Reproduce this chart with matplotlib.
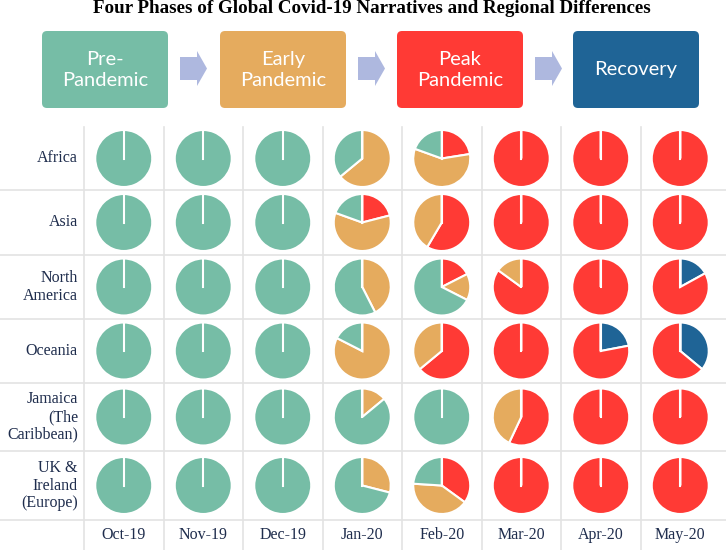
import matplotlib
matplotlib.use("Agg")
import matplotlib.pyplot as plt
from matplotlib.patches import FancyBboxPatch, FancyArrow

# data
months = ["Oct-19", "Nov-19", "Dec-19", "Jan-20", "Feb-20", "Mar-20", "Apr-20", "May-20"]
regions = ["Africa", "Asia", "North\nAmerica", "Oceania",
           "Jamaica\n(The\nCaribbean)", "UK &\nIreland\n(Europe)"]
phases = ["Pre-\nPandemic", "Early\nPandemic", "Peak\nPandemic", "Recovery"]
phase_colors = ["#76bda6", "#e5ab5e", "#ff3a35", "#1f6496"]

# share per month: [recovery, peak, early, pre] (clockwise from 12 o'clock)
africa = [[0, 0, 0, 100], [0, 0, 0, 100], [0, 0, 0, 100], [0, 0, 64, 36],
          [0, 22.5, 58, 19.5], [0, 100, 0, 0], [0, 100, 0, 0], [0, 100, 0, 0]]
asia = [[0, 0, 0, 100], [0, 0, 0, 100], [0, 0, 0, 100], [0, 21, 59.5, 19.5],
        [0, 58.5, 41.5, 0], [0, 100, 0, 0], [0, 100, 0, 0], [0, 100, 0, 0]]
north_america = [[0, 0, 0, 100], [0, 0, 0, 100], [0, 0, 0, 100], [0, 0, 42.5, 57.5],
                 [0, 17.5, 15, 67.5], [0, 85, 15, 0], [0, 100, 0, 0], [17, 83, 0, 0]]
oceania = [[0, 0, 0, 100], [0, 0, 0, 100], [0, 0, 0, 100], [0, 0, 82.5, 17.5],
           [0, 64, 36, 0], [0, 100, 0, 0], [22, 78, 0, 0], [36, 64, 0, 0]]
jamaica = [[0, 0, 0, 100], [0, 0, 0, 100], [0, 0, 0, 100], [0, 0, 14, 86],
           [0, 0, 0, 100], [0, 57, 43, 0], [0, 100, 0, 0], [0, 100, 0, 0]]
uk_ireland = [[0, 0, 0, 100], [0, 0, 0, 100], [0, 0, 0, 100], [0, 0, 29, 71],
              [0, 35, 41, 24], [0, 100, 0, 0], [0, 100, 0, 0], [0, 100, 0, 0]]
shares = [africa, asia, north_america, oceania, jamaica, uk_ireland]
wedge_colors = [phase_colors[3], phase_colors[2], phase_colors[1], phase_colors[0]]

W, H = 726, 550
fig = plt.figure(figsize=(W / 100, H / 100), dpi=100)
ax = fig.add_axes([0, 0, 1, 1])

def py(y):
    # pixel row (from top) -> axis y
    return H - y

serif = "Liberation Serif"
navy = "#1f2d4d"

ax.text(371.5, py(8.5), "Four Phases of Global Covid-19 Narratives and Regional Differences",
        ha="center", va="center", fontsize=13.7, fontweight="bold", family=serif)

# phase boxes + arrows
box_x = [42, 220, 397, 573]
for i, (lab, c) in enumerate(zip(phases, phase_colors)):
    b = FancyBboxPatch((box_x[i] + 5, py(108) + 5), 126 - 10, 77 - 10,
                       boxstyle="round,pad=5", fc=c, ec="none")
    ax.add_patch(b)
    ax.text(box_x[i] + 63, py(70), lab, ha="center", va="center", color="white",
            fontsize=14.5, family="Lato", linespacing=1.35)
    if i < 3:
        ax.add_patch(FancyArrow(box_x[i] + 138, py(68.5), 27, 0, width=23,
                                head_width=35, head_length=10, length_includes_head=True,
                                fc="#aeb8df", ec="none"))

# grid
col_x0, col_w = 84, 79.5
row_edges = [127, 190, 255, 319, 383, 451, 520]
grid_c = "#e3e3e3"
for k in range(len(months)):
    x = col_x0 + k * col_w
    ax.plot([x, x], [py(127), py(550)], color=grid_c, lw=1.2, zorder=0)
for y in row_edges[1:]:
    ax.plot([0, W], [py(y), py(y)], color=grid_c, lw=1.2, zorder=0)

# pies
for r, region in enumerate(regions):
    cy = py((row_edges[r] + row_edges[r + 1]) / 2)
    ax.text(78, cy, region, ha="right", va="center", fontsize=11.5, family=serif,
            color=navy, linespacing=1.15)
    for j in range(len(months)):
        cx = col_x0 + (j + 0.5) * col_w
        vals = shares[r][j]
        ax.pie(vals, colors=wedge_colors, center=(cx, cy), radius=28.5,
               startangle=90, counterclock=False, frame=True,
               wedgeprops=dict(edgecolor="white", linewidth=1.5))
        ax.plot([cx, cx], [cy, cy + 28.5], color="white", lw=1.5)

for j, m in enumerate(months):
    ax.text(col_x0 + (j + 0.5) * col_w, py(535), m, ha="center", va="center",
            fontsize=11.5, family=serif, color=navy)

ax.set_xlim(0, W)
ax.set_ylim(0, H)
ax.axis("off")

fig.savefig("out.png", dpi=100, facecolor="white")
